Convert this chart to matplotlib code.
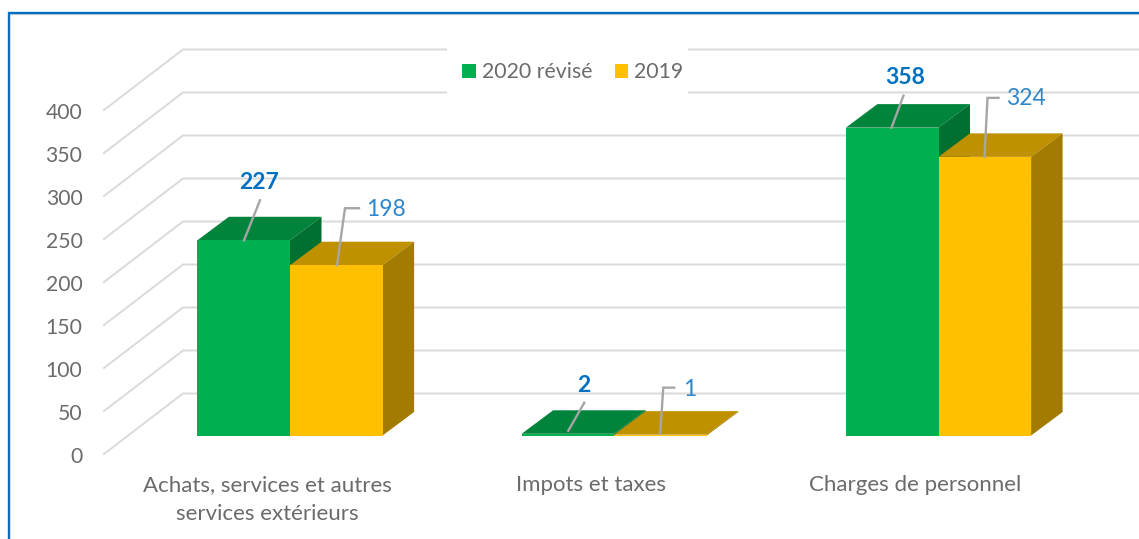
import matplotlib
matplotlib.use("Agg")
import matplotlib.pyplot as plt
from matplotlib.lines import Line2D
from matplotlib.patches import Polygon, Rectangle, Patch
from matplotlib.transforms import Affine2D, IdentityTransform, offset_copy

# ---- data ----
categories = ["Achats, services et autres\nservices extérieurs", "Impots et taxes", "Charges de personnel"]
series_names = ["2020 révisé", "2019"]
values_2020 = [227, 2, 358]
values_2019 = [198, 1, 324]
y_ticks = [0, 50, 100, 150, 200, 250, 300, 350, 400]

# ---- style ----
W, H = 1139, 539
GREEN = ("#00B050", "#00843C", "#007030")
YELLOW = ("#FFC000", "#BF9000", "#A37B00")
PX_PER_VALUE = 0.86
PX_PER_CAT = 324.25
BASE_PX = 435.5
ZERO_CAT_PX = 290.0
LEFT_PX, BOTTOM_PX = 88, 465
BAR_W = 92.6 / PX_PER_CAT
DX, DY = 31.5 / PX_PER_CAT, 23.5 / PX_PER_VALUE
TXT = "#6B6B6B"
BLUE = "#0070C0"
LBL = "#2E86CB"
LEAD = "#A6A6A6"

plt.rcParams["font.family"] = ["Lato", "DejaVu Sans"]
fig = plt.figure(figsize=(W / 100, H / 100), dpi=100, facecolor="white")
ax = fig.add_axes([LEFT_PX / W, (H - BOTTOM_PX) / H, (W - LEFT_PX) / W, BOTTOM_PX / H])
ax.set_xlim((LEFT_PX - ZERO_CAT_PX) / PX_PER_CAT, (W - ZERO_CAT_PX) / PX_PER_CAT)
ax.set_ylim((BASE_PX - BOTTOM_PX) / PX_PER_VALUE, BASE_PX / PX_PER_VALUE)
ax.patch.set_alpha(0)
for s in ax.spines.values():
    s.set_visible(False)

px = Affine2D().scale(1, -1).translate(0, H)  # pixel coords, y down

# wall grid: back plane line plus diagonal to the front
back_zero = (BASE_PX - 393.5) / PX_PER_VALUE
front_zero = (BASE_PX - 454) / PX_PER_VALUE
back_x = (183 - ZERO_CAT_PX) / PX_PER_CAT
front_x = (104 - ZERO_CAT_PX) / PX_PER_CAT
x_end = (W - ZERO_CAT_PX) / PX_PER_CAT
for v in y_ticks:
    ax.plot([front_x, back_x, x_end], [v + front_zero, v + back_zero, v + back_zero],
            color="#DADADA", lw=1.4, clip_on=False, zorder=1, solid_joinstyle="miter")

# legend mask
ax.add_patch(Rectangle((447, 42), 241, 58, transform=px, fc="white", ec="none", zorder=2))


def bar3d(x0, v, cols, z):
    x1 = x0 + BAR_W
    ax.add_patch(Polygon([(x0, v), (x1, v), (x1 + DX, v + DY), (x0 + DX, v + DY)],
                         fc=cols[1], ec="none", zorder=z))
    ax.add_patch(Polygon([(x1, 0), (x1 + DX, DY), (x1 + DX, v + DY), (x1, v)],
                         fc=cols[2], ec="none", zorder=z))
    ax.add_patch(Rectangle((x0, 0), BAR_W, v, fc=cols[0], ec="none", zorder=z + 0.1))


for i in range(len(categories)):
    bar3d(i - BAR_W, values_2020[i], GREEN, 3)
    bar3d(i, values_2019[i], YELLOW, 4)

# data labels with leader lines (pixel offsets from the bar's top anchor)
leaders_2020 = [[(-46, 0), (-30, -40)], [(-46, -3), (-30, -31)], [(-47, 0), (-35, -32)]]
leaders_2019 = [[(47, 0), (55, -57), (69, -57)], [(46, -1), (49, -47), (60, -47)], [(46, 0), (49, -59), (60, -59)]]
text_2020 = [(-31, -58), (-31, -48), (-33, -50)]
text_2019 = [(76, -56), (69, -45), (68, -58)]


def place(x, v, off):
    return offset_copy(ax.transData, fig=fig, x=off[0], y=-off[1], units="dots"), (x, v)


for i in range(len(categories)):
    for vals, leads, tx, color, weight, ha in (
        (values_2020, leaders_2020, text_2020, BLUE, "bold", "center"),
        (values_2019, leaders_2019, text_2019, LBL, "normal", "left"),
    ):
        v = vals[i]
        base = ax.transData.transform((i, v))
        pts = [(base[0] + o[0], base[1] - o[1]) for o in leads[i]]
        ax.add_line(Line2D([p[0] for p in pts], [p[1] for p in pts], transform=None,
                           color=LEAD, lw=1.7, zorder=6, clip_on=False, solid_joinstyle="miter"))
        tr, xy = place(i, v, tx[i])
        ax.text(xy[0], xy[1], str(v), transform=tr, color=color, fontsize=16.5, fontweight=weight,
                ha=ha, va="center", zorder=7)

# real axes ticks, shifted to where the perspective puts the labels
ax.set_yticks([v + front_zero - 1.2 for v in y_ticks], [str(v) for v in y_ticks])
ax.tick_params(axis="y", length=0, pad=4, labelsize=15.2, labelcolor=TXT)
ax.set_xticks([i - 23 / PX_PER_CAT for i in range(len(categories))], categories)
ax.tick_params(axis="x", length=0, pad=7, labelsize=16, labelcolor=TXT)
for t in ax.get_xticklabels():
    t.set_linespacing(1.55)

# legend
handles = [Patch(fc=GREEN[0], ec="none", label=series_names[0]),
           Patch(fc=YELLOW[0], ec="none", label=series_names[1])]
leg = ax.legend(handles=handles, ncol=2, frameon=False, fontsize=15.3, labelcolor=TXT,
                loc="center", bbox_to_anchor=(573, H - 72.5), bbox_transform=IdentityTransform(),
                handlelength=0.63, handleheight=0.63, handletextpad=0.3, columnspacing=1.03)
leg.set_zorder(8)

# outer blue frame
fig.add_artist(Line2D([9, 9, W], [0, H - 13.5, H - 13.5], transform=None, color="#D8D8D8", lw=1.0))
fig.add_artist(Line2D([9, 9, W], [0, H - 12.5, H - 12.5], transform=None, color=BLUE, lw=1.7,
                      solid_joinstyle="miter"))

fig.savefig("out.png", dpi=100, facecolor="white")
